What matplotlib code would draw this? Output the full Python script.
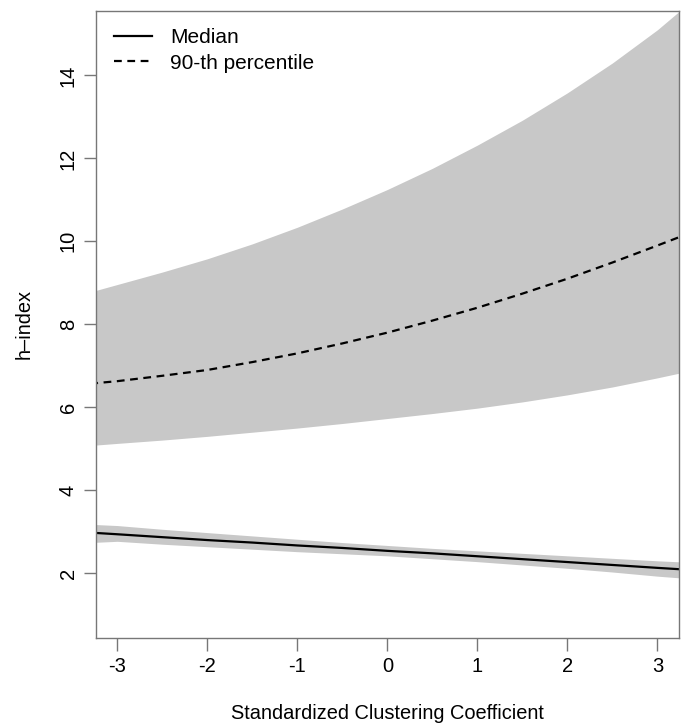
import matplotlib
matplotlib.use("Agg")
import matplotlib.pyplot as plt
import numpy as np

# ---- data ----
x = [-3.3, -3, -2.5, -2, -1.5, -1, -0.5, 0, 0.5, 1, 1.5, 2, 2.5, 3, 3.3]

median = [2.98, 2.94, 2.87, 2.80, 2.74, 2.67, 2.61, 2.54, 2.48, 2.41, 2.34, 2.27, 2.20, 2.13, 2.09]
median_hi = [3.18, 3.15, 3.06, 2.98, 2.90, 2.82, 2.74, 2.67, 2.60, 2.54, 2.48, 2.42, 2.36, 2.30, 2.27]
median_lo = [2.74, 2.77, 2.70, 2.64, 2.58, 2.52, 2.47, 2.42, 2.35, 2.28, 2.20, 2.12, 2.03, 1.93, 1.88]

p90 = [6.57, 6.63, 6.76, 6.90, 7.09, 7.30, 7.54, 7.80, 8.09, 8.40, 8.74, 9.10, 9.49, 9.90, 10.15]
p90_hi = [8.78, 8.96, 9.26, 9.58, 9.94, 10.34, 10.78, 11.25, 11.76, 12.32, 12.92, 13.58, 14.30, 15.10, 15.65]
p90_lo = [5.08, 5.13, 5.21, 5.30, 5.40, 5.50, 5.61, 5.73, 5.85, 5.98, 6.13, 6.30, 6.49, 6.71, 6.85]

xticks = [-3, -2, -1, 0, 1, 2, 3]
yticks = [2, 4, 6, 8, 10, 12, 14]

plt.rcParams['font.family'] = ['Liberation Sans', 'DejaVu Sans']

fig = plt.figure(figsize=(6.86, 7.23), dpi=100)
ax = fig.add_axes([0.1395, 0.1176, 0.8503, 0.8676])

band_col = '#c8c8c8'
ax.fill_between(x, p90_lo, p90_hi, color=band_col, lw=0)
ax.fill_between(x, median_lo, median_hi, color=band_col, lw=0)
ax.plot(x, median, color='black', lw=1.6, label='Median')
ax.plot(x, p90, color='black', lw=1.6, ls=(0, (3.5, 2.5)), label='90-th percentile')

ax.set_xlim(-3.24, 3.24)
ax.set_ylim(0.44, 15.56)
ax.set_xticks(xticks)
ax.set_yticks(yticks)
ax.set_xticklabels([str(v) for v in xticks], fontsize=14.5)
ax.set_yticklabels([str(v) for v in yticks], fontsize=14.5, rotation=90, va='center')

for s in ax.spines.values():
    s.set_color('#777777')
    s.set_linewidth(1.0)
ax.tick_params(axis='both', length=9, width=1.0, color='#777777', direction='out')
ax.tick_params(axis='x', pad=5)
ax.tick_params(axis='y', pad=4)

ax.set_xlabel('Standardized Clustering Coefficient', fontsize=14.4, labelpad=20)
ax.set_ylabel('h\u2013index', fontsize=14.4, labelpad=18)

ax.legend(loc='upper left', bbox_to_anchor=(0.031, 0.972), frameon=False,
          fontsize=15, handlelength=1.83, handletextpad=0.87, labelspacing=0.3,
          borderpad=0, borderaxespad=0)

fig.savefig('out.png', dpi=100)
